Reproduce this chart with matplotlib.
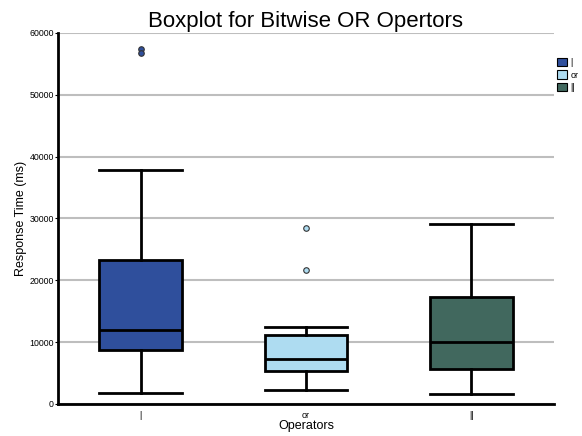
import matplotlib.pyplot as plt
from matplotlib.patches import Patch

plt.rcParams['font.family'] = ['Liberation Sans', 'DejaVu Sans']

# box statistics (ms)
operators = ['|', 'or', '||']
lowWhisk = [1710, 2200, 1620]
q1 = [8740, 5390, 5600]
med = [11970, 7330, 10080]
q3 = [23350, 11210, 17310]
highWhisk = [37910, 12400, 29170]
outliers = [[57440, 56800], [28480, 21730], []]
colours = ['#2f4f9c', '#aedcf1', '#41685e']

stats = []
for i in range(len(operators)):
    stats.append(dict(label=operators[i], whislo=lowWhisk[i], q1=q1[i], med=med[i],
                      q3=q3[i], whishi=highWhisk[i], fliers=outliers[i]))

fig = plt.figure(figsize=(5.82, 4.36), dpi=100)
ax = fig.add_axes([0.0997, 0.0734, 0.852, 0.851])

bp = ax.bxp(stats, positions=[1, 2, 3], widths=0.5, patch_artist=True,
            boxprops=dict(linewidth=2, edgecolor='black'),
            medianprops=dict(color='black', linewidth=2),
            whiskerprops=dict(linewidth=2),
            capprops=dict(linewidth=2),
            capwidths=0.5)
for box, clr in zip(bp['boxes'], colours):
    box.set_facecolor(clr)
for fl, clr in zip(bp['fliers'], colours):
    fl.set(marker='o', markerfacecolor=clr, markeredgecolor='#333333',
           markersize=4, markeredgewidth=0.8)

ax.set_xlim(0.5, 3.5)
ax.set_ylim(0, 60000)
ax.set_yticks([0, 10000, 20000, 30000, 40000, 50000, 60000])
ax.yaxis.grid(True, color='#bebebe', linewidth=1.5)
ax.set_axisbelow(True)
for s in ['top', 'right']:
    ax.spines[s].set_visible(False)
ax.spines['left'].set_linewidth(2)
ax.spines['bottom'].set_linewidth(2)
ax.tick_params(axis='y', labelsize=6.3, length=2, width=0.8, pad=1)
ax.tick_params(axis='x', labelsize=6.5, length=0, pad=5)

ax.set_title('Boxplot for Bitwise OR Opertors', fontsize=16, pad=4)
ax.set_ylabel('Response Time (ms)', fontsize=9, labelpad=2)
ax.set_xlabel('Operators', fontsize=9, labelpad=0)

handles = [Patch(facecolor=c, edgecolor='black', linewidth=0.8) for c in colours]
fig.legend(handles, operators, loc='upper left', bbox_to_anchor=(0.957, 0.868),
           frameon=False, fontsize=6.5, handlelength=1.1, handleheight=1.1,
           handletextpad=0.4, labelspacing=0.35, borderaxespad=0, borderpad=0)

fig.savefig('out.png', dpi=100)
